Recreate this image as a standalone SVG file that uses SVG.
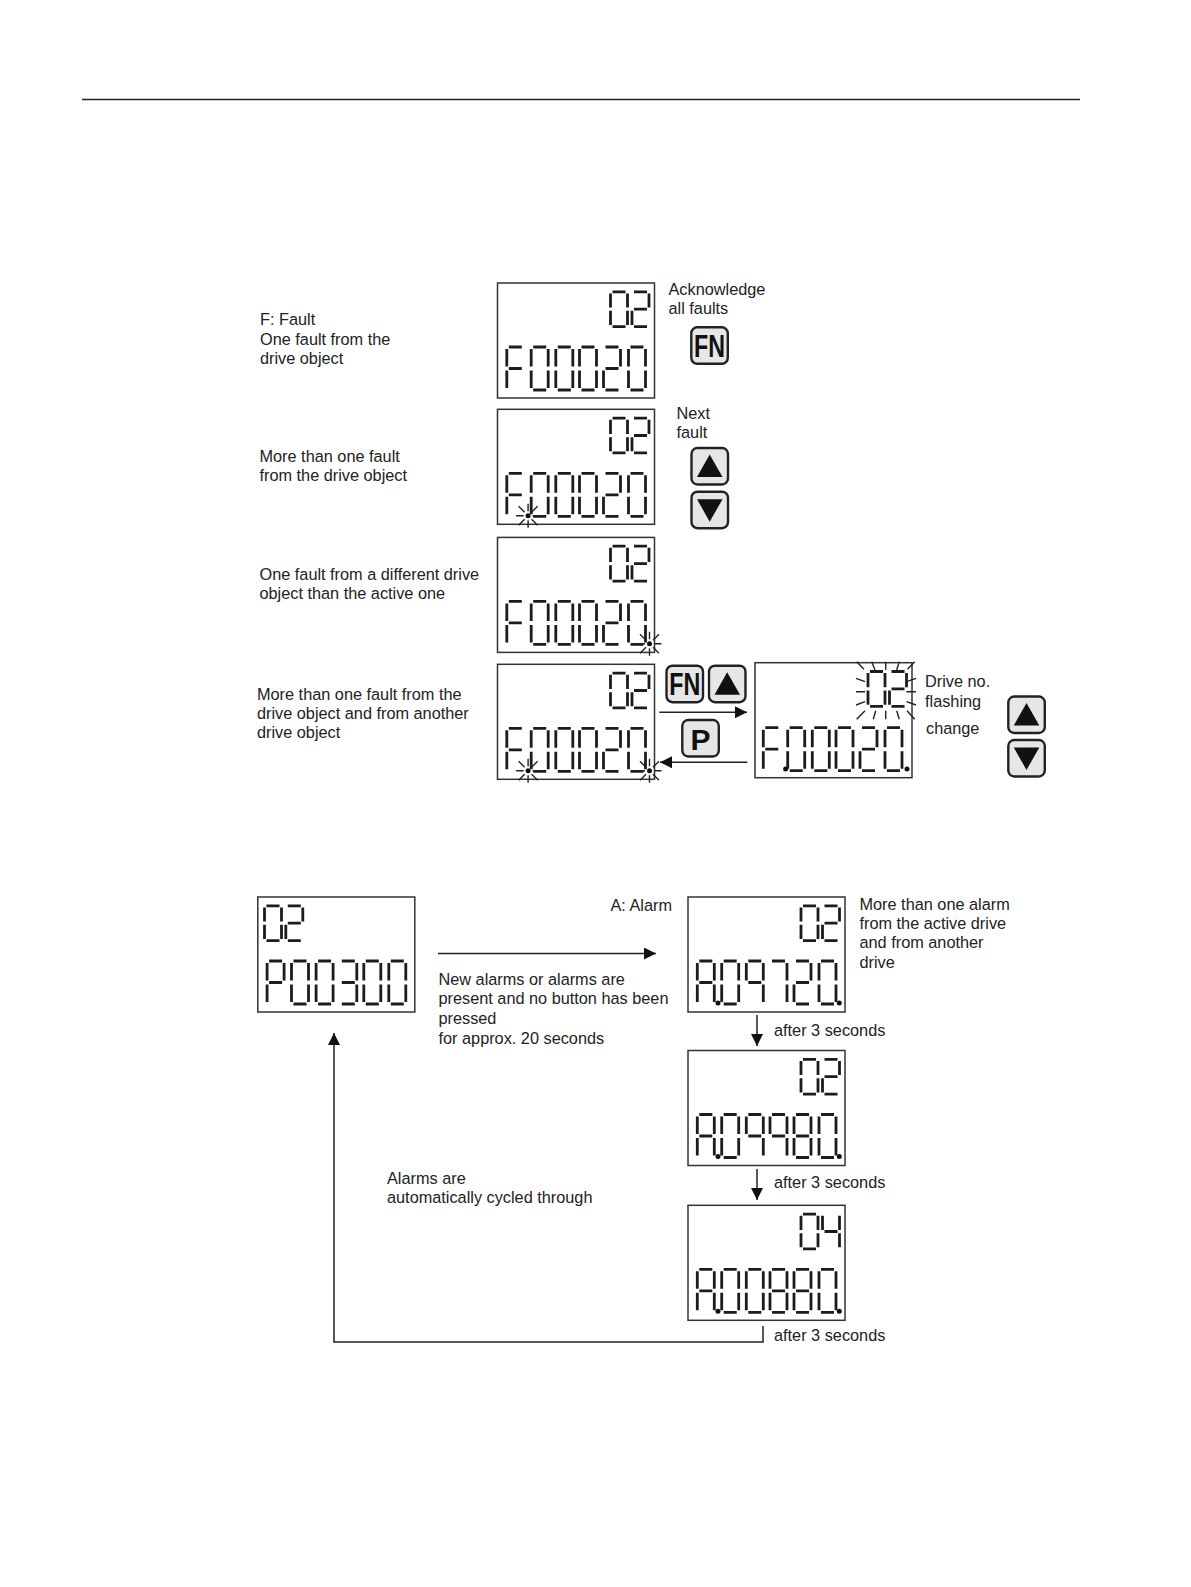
<svg xmlns="http://www.w3.org/2000/svg" xmlns:xlink="http://www.w3.org/1999/xlink" width="1191" height="1587" viewBox="0 0 1191 1587">
<style>
text{font-family:"Liberation Sans",Arial,sans-serif;font-size:16.3px;fill:#222}
.frame{fill:#fff;stroke:#333;stroke-width:1.5}
.seg{fill:none;stroke:#1c1c1c;stroke-width:2.8;vector-effect:non-scaling-stroke}
.btn{fill:#e6e6e6;stroke:#222;stroke-width:2.4}
.ray{fill:none;stroke:#222;stroke-width:1.4}
.arrowline{fill:none;stroke:#222;stroke-width:1.5;marker-end:url(#arrow)}
.btntext{font-family:"Liberation Sans",Arial,sans-serif;font-weight:bold;fill:#111;text-anchor:middle}
</style>
<defs>
<marker id="arrow" markerUnits="userSpaceOnUse" markerWidth="13" markerHeight="13" refX="12" refY="6" orient="auto"><path d="M0 0L12 6L0 12Z" fill="#111"/></marker>
<path id="d0" class="seg" d="M2 0H15M17 2V19.5M17 23.5V41M2 43H15M0 23.5V41M0 2V19.5"/>
<path id="d2" class="seg" d="M2 0H15M17 2V19.5M2 21.5H15M0 23.5V41M2 43H15"/>
<path id="d3" class="seg" d="M2 0H15M17 2V19.5M2 21.5H15M17 23.5V41M2 43H15"/>
<path id="d4" class="seg" d="M0 2V19.5M2 21.5H15M17 2V19.5M17 23.5V41"/>
<path id="d7" class="seg" d="M2 0H15M17 2V19.5M17 23.5V41"/>
<path id="d8" class="seg" d="M2 0H15M17 2V19.5M17 23.5V41M2 43H15M0 23.5V41M0 2V19.5M2 21.5H15"/>
<path id="d9" class="seg" d="M2 0H15M17 2V19.5M17 23.5V41M0 2V19.5M2 21.5H15"/>
<path id="dF" class="seg" d="M2 0H15M0 2V19.5M2 21.5H15M0 23.5V41"/>
<path id="dP" class="seg" d="M2 0H15M17 2V19.5M0 2V19.5M2 21.5H15M0 23.5V41"/>
<path id="dA" class="seg" d="M2 0H15M17 2V19.5M17 23.5V41M0 23.5V41M0 2V19.5M2 21.5H15"/>
<rect id="frame" class="frame" width="157" height="115"/>
<g id="top02"><use href="#d0" transform="translate(113 8.8) scale(1 .81)"/><use href="#d2" transform="translate(134.5 8.8) scale(1 .81)"/></g>
<g id="f00020"><use href="#dF" x="9.3" y="64"/><use href="#d0" x="33.7" y="64"/><use href="#d0" x="58.3" y="64"/><use href="#d0" x="82" y="64"/><use href="#d2" x="106" y="64"/><use href="#d0" x="131" y="64"/></g>
<circle id="dot" r="2.5" fill="#111"/>
<g id="flash"><circle r="2.5" fill="#111"/><path class="ray" d="M0 -4.5V-12M0 4.5V12M-4.5 0H-12M4.5 0H12M-3.5 -3.5L-9.5 -9.5M3.5 -3.5L9.5 -9.5M-3.5 3.5L-9.5 9.5M3.5 3.5L9.5 9.5"/></g>
<g id="btnup"><rect class="btn" width="36.5" height="36.5" rx="6"/><path d="M18.2 6.5L31 29H5.5Z" fill="#111"/></g>
<g id="btndown"><rect class="btn" width="36.5" height="36.5" rx="6"/><path d="M18.2 30L31 7.5H5.5Z" fill="#111"/></g>
<g id="btnfn"><rect class="btn" width="36.5" height="36.5" rx="6"/><text class="btntext" x="18.2" y="29.5" textLength="31" lengthAdjust="spacingAndGlyphs" style="font-size:32px">FN</text></g>
</defs>

<g id="rule"><path d="M82 99.5H1080" stroke="#222" stroke-width="1.3" fill="none"/></g>

<g id="panel-f1" transform="translate(497.5 283)"><use href="#frame"/><use href="#top02"/><use href="#f00020"/></g>
<g id="panel-f2" transform="translate(497.5 409.3)"><use href="#frame"/><use href="#top02"/><use href="#f00020"/><use href="#flash" x="30.6" y="106.4"/></g>
<g id="panel-f3" transform="translate(497.5 537.4)"><use href="#frame"/><use href="#top02"/><use href="#f00020"/><use href="#flash" x="152" y="106.4"/></g>
<g id="panel-f4" transform="translate(497.5 664.3)"><use href="#frame"/><use href="#top02"/><use href="#f00020"/><use href="#flash" x="30.6" y="106.4"/><use href="#flash" x="152" y="106.4"/></g>
<g id="panel-f5" transform="translate(755 662.7)"><use href="#frame"/><use href="#top02"/><g transform="translate(-1 1)"><use href="#f00020"/></g><use href="#dot" x="30.6" y="106.4"/><use href="#dot" x="152" y="106.4"/></g>
<g id="drive-flash"><path class="ray" d="M856.7 661.7L864 669.3M871.7 661.7L875 670M885.7 661.7V670M899.3 661.7L896.7 670M914.7 661.7L907.5 669.3M856 678.3L865 681.7M856 691.7H865M856 705L865 701.7M856.7 719.3L865 710.7M873.3 719.3L875.7 710.7M885.7 719.3V710.7M899.3 719.3L896.7 710.7M914.7 719.3L907 710.7M906.5 681.7L916 678.3M906.5 691.7H916M906.5 701.7L916 705"/></g>

<g id="panel-p" transform="translate(257.8 897)"><use href="#frame"/><use href="#d0" transform="translate(6.7 8.8) scale(1 .81)"/><use href="#d2" transform="translate(28 8.8) scale(1 .81)"/><use href="#dP" x="9.3" y="64"/><use href="#d0" x="33.7" y="64"/><use href="#d0" x="58.3" y="64"/><use href="#d3" x="82" y="64"/><use href="#d0" x="106" y="64"/><use href="#d0" x="131" y="64"/></g>
<g id="panel-a1" transform="translate(688 897)"><use href="#frame"/><use href="#top02"/><use href="#dA" x="9.3" y="64"/><use href="#d0" x="33.7" y="64"/><use href="#d9" x="58.3" y="64"/><use href="#d7" x="82" y="64"/><use href="#d2" x="106" y="64"/><use href="#d0" x="131" y="64"/><use href="#dot" x="30" y="106"/><use href="#dot" x="151.3" y="106"/></g>
<g id="panel-a2" transform="translate(688 1050.5)"><use href="#frame"/><use href="#top02"/><use href="#dA" x="9.3" y="64"/><use href="#d0" x="33.7" y="64"/><use href="#d9" x="58.3" y="64"/><use href="#d9" x="82" y="64"/><use href="#d8" x="106" y="64"/><use href="#d0" x="131" y="64"/><use href="#dot" x="30" y="106"/><use href="#dot" x="151.3" y="106"/></g>
<g id="panel-a3" transform="translate(688 1205.3)"><use href="#frame"/><use href="#d0" transform="translate(113 8.8) scale(1 .81)"/><use href="#d4" transform="translate(134.5 8.8) scale(1 .81)"/><use href="#dA" x="9.3" y="64"/><use href="#d0" x="33.7" y="64"/><use href="#d0" x="58.3" y="64"/><use href="#d8" x="82" y="64"/><use href="#d8" x="106" y="64"/><use href="#d0" x="131" y="64"/><use href="#dot" x="30" y="106"/><use href="#dot" x="151.3" y="106"/></g>

<g id="btn-fn1"><use href="#btnfn" x="691.3" y="327.3"/></g>
<g id="btn-up1"><use href="#btnup" x="691.5" y="448"/></g>
<g id="btn-down1"><use href="#btndown" x="691.5" y="491.7"/></g>
<g id="btn-fn2"><use href="#btnfn" x="666.5" y="665.7"/></g>
<g id="btn-up2"><use href="#btnup" x="709" y="665.7"/></g>
<g id="btn-p"><rect class="btn" x="682.3" y="720" width="36.5" height="36.5" rx="6"/><text class="btntext" x="700.6" y="749.5" style="font-size:30px">P</text></g>
<g id="btn-up3"><use href="#btnup" x="1008.3" y="696.5"/></g>
<g id="btn-down3"><use href="#btndown" x="1008.3" y="740"/></g>

<g id="connectors">
<path class="arrowline" d="M659.3 712.3H747"/>
<path class="arrowline" d="M747.3 762.3H660"/>
<path class="arrowline" d="M438 953.5H656"/>
<path class="arrowline" d="M757 1015V1046"/>
<path class="arrowline" d="M757 1169V1200"/>
<path class="arrowline" d="M763 1326V1342H334V1033"/>
</g>

<g id="labels">
<text x="668.5" y="294.7">Acknowledge</text><text x="668.5" y="313.7">all faults</text>
<text x="260" y="324.7">F: Fault</text><text x="260" y="344.7">One fault from the</text><text x="260" y="363.7">drive object</text>
<text x="676.5" y="418.7">Next</text><text x="676.5" y="438.2">fault</text>
<text x="259.5" y="461.7">More than one fault</text><text x="259.5" y="480.7">from the drive object</text>
<text x="259.5" y="580.2">One fault from a different drive</text><text x="259.5" y="599.2">object than the active one</text>
<text x="257" y="699.7">More than one fault from the</text><text x="257" y="718.7">drive object and from another</text><text x="257" y="737.7">drive object</text>
<text x="925" y="687.2">Drive no.</text><text x="925" y="706.7">flashing</text><text x="926" y="733.7">change</text>
<text x="610.5" y="910.7">A: Alarm</text>
<text x="859.5" y="909.7">More than one alarm</text><text x="859.5" y="929.2">from the active drive</text><text x="859.5" y="948.2">and from another</text><text x="859.5" y="967.7">drive</text>
<text x="438.5" y="984.7">New alarms or alarms are</text><text x="438.5" y="1003.7">present and no button has been</text><text x="438.5" y="1024.2">pressed</text><text x="438.5" y="1043.7">for approx. 20 seconds</text>
<text x="774" y="1035.7">after 3 seconds</text><text x="774" y="1188.2">after 3 seconds</text><text x="774" y="1340.7">after 3 seconds</text>
<text x="387" y="1184.2">Alarms are</text><text x="387" y="1203.2">automatically cycled through</text>
</g>
</svg>
